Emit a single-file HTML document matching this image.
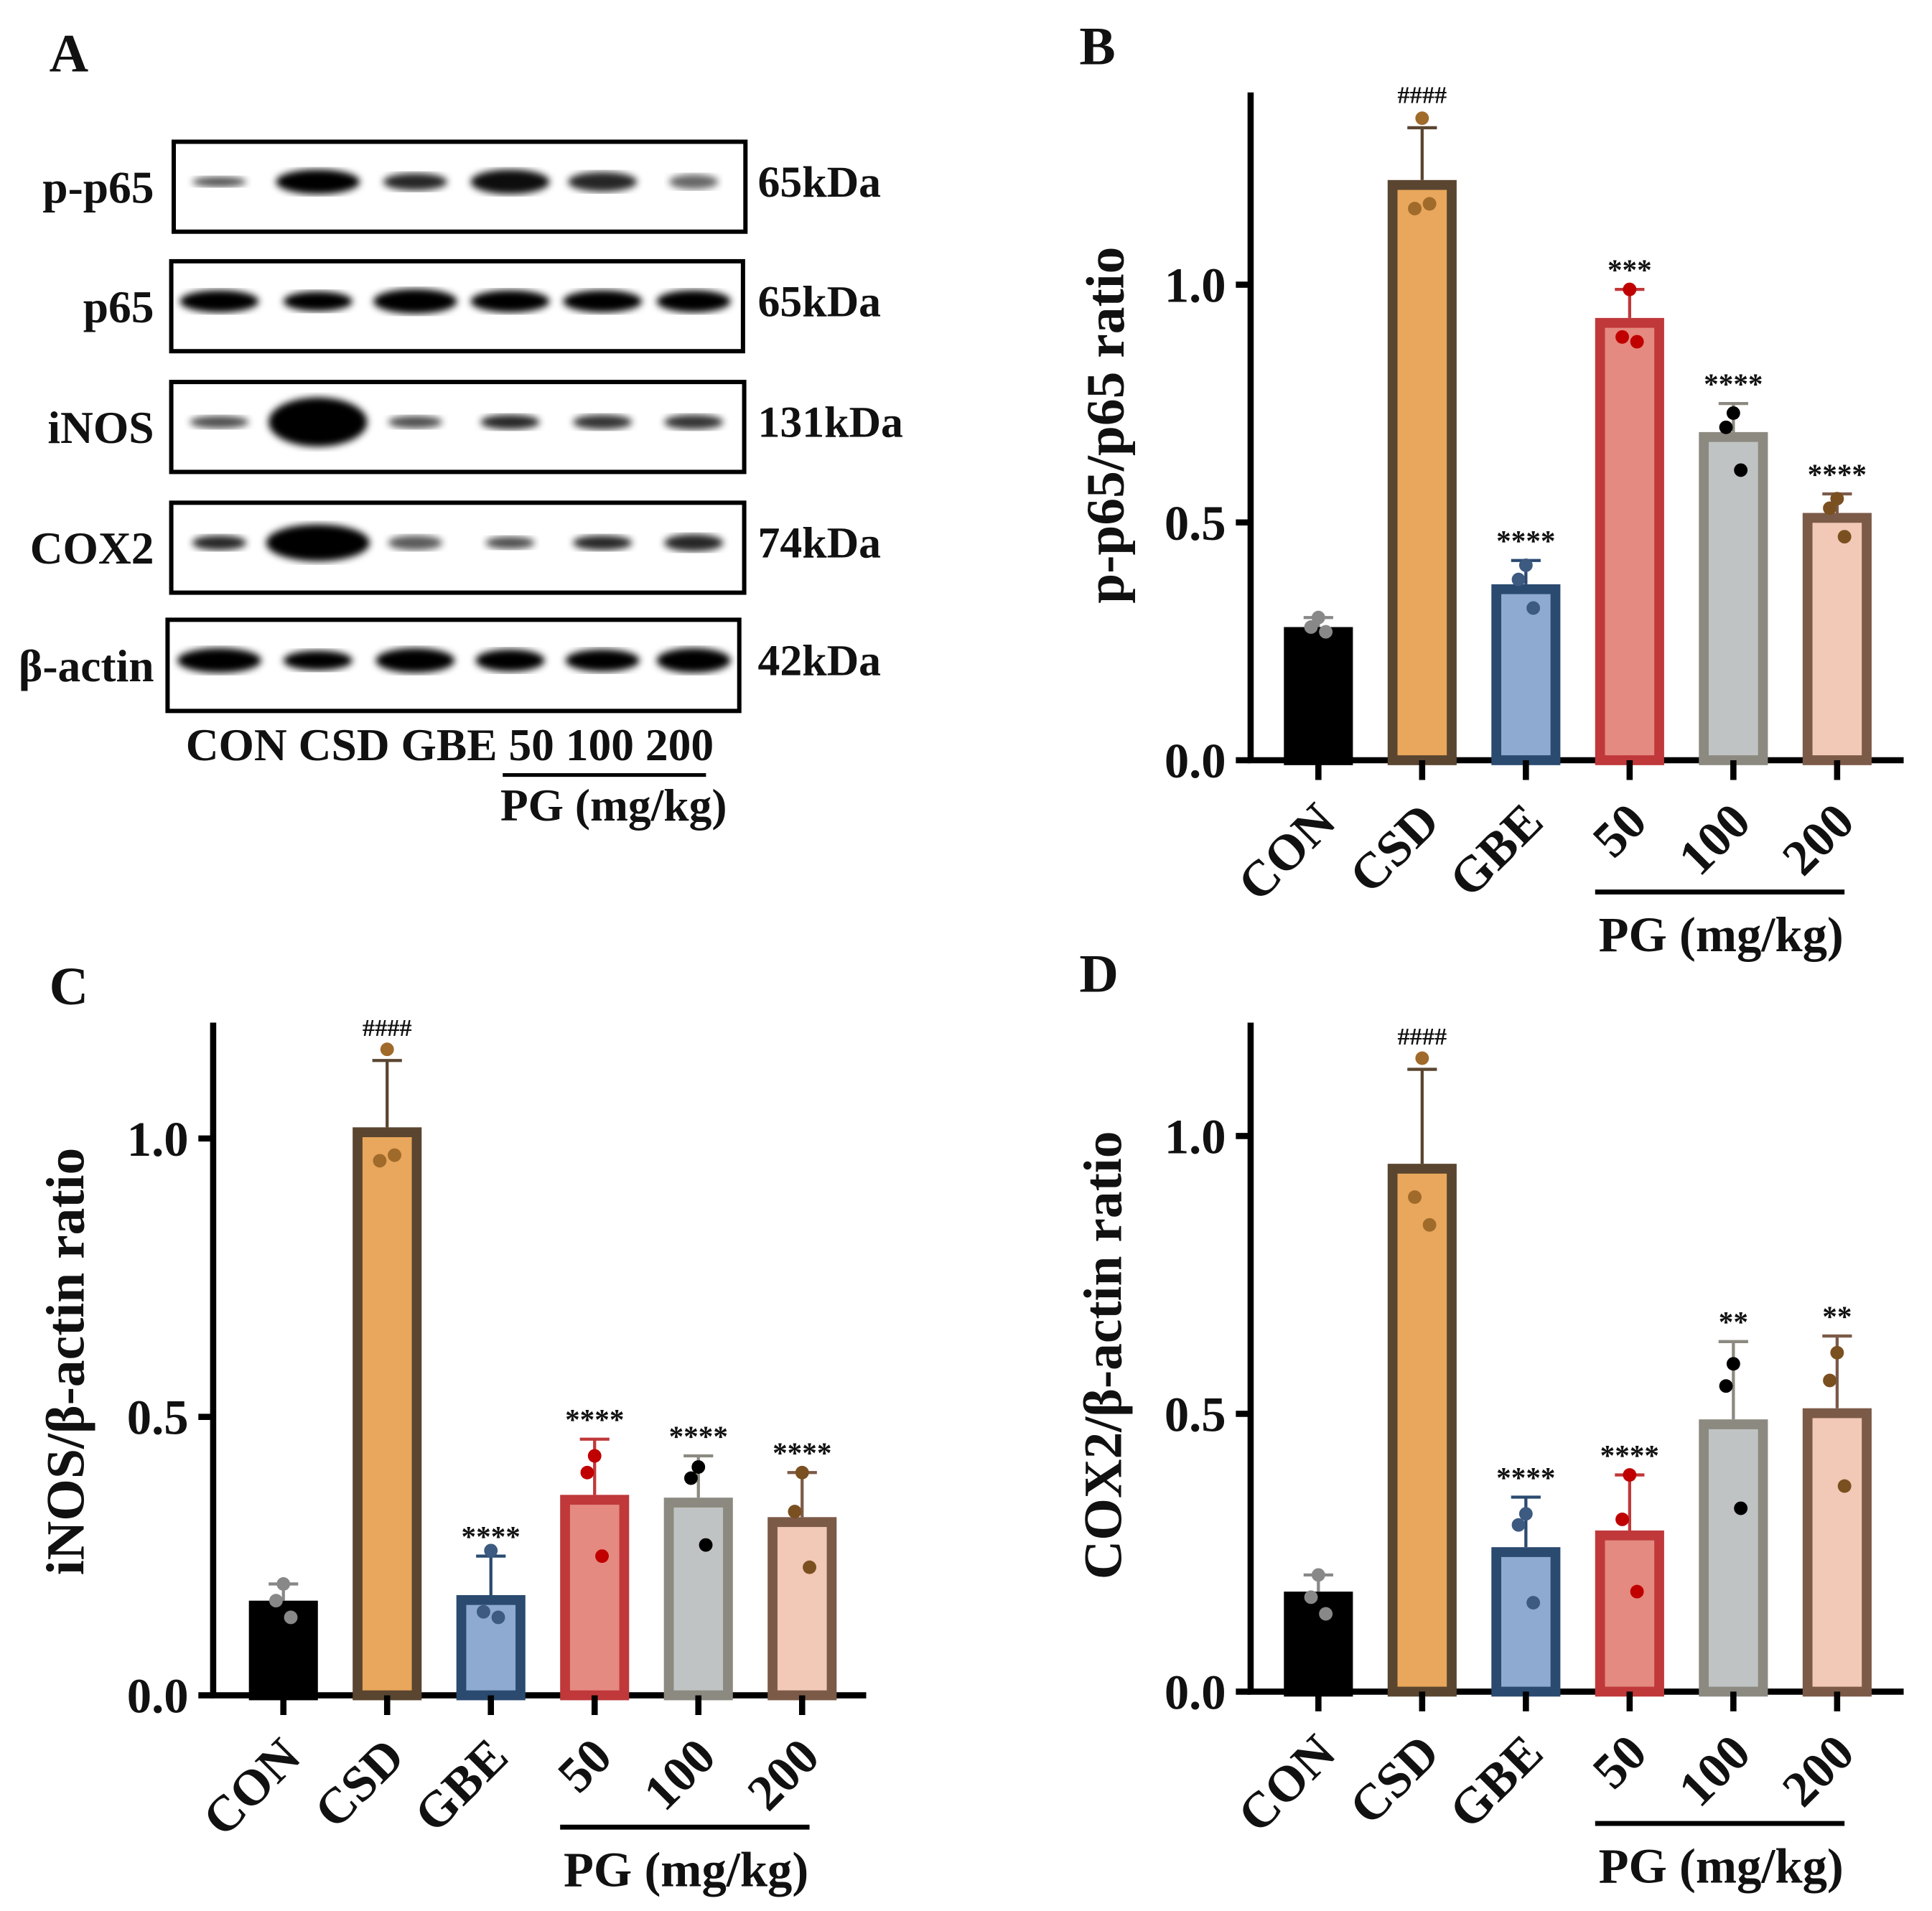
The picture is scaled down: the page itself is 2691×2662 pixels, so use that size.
<!DOCTYPE html>
<html><head><meta charset="utf-8"><style>
html,body{margin:0;padding:0;background:#fff}
svg{display:block}
text{font-family:"Liberation Serif",serif;font-weight:bold;fill:#111}
</style></head><body>
<svg id="fig" width="2691" height="2662" viewBox="0 0 1568 1551" xmlns="http://www.w3.org/2000/svg">
<g id="blot"></g>
<g id="charts"></g>
</svg>
<script>
// ---- data ----
const categories = ["CON","CSD","GBE","50","100","200"];
const bMeans = [0.28,1.22,0.37,0.93,0.69,0.52];
const bErr = [0.30,1.33,0.42,0.99,0.75,0.56];
const bPoints = [[0.30,0.28,0.27],[1.35,1.16,1.17],[0.41,0.38,0.32],[0.99,0.89,0.88],[0.73,0.70,0.61],[0.55,0.53,0.47]];
const bSig = ["","####","****","***","****","****"];
const cMeans = [0.17,1.02,0.18,0.36,0.355,0.32];
const cErr = [0.20,1.14,0.25,0.46,0.43,0.40];
const cPoints = [[0.20,0.17,0.14],[1.16,0.96,0.97],[0.26,0.15,0.14],[0.43,0.40,0.25],[0.41,0.39,0.27],[0.40,0.33,0.23]];
const cSig = ["","####","****","****","****","****"];
const dMeans = [0.18,0.95,0.26,0.29,0.49,0.51];
const dErr = [0.21,1.12,0.35,0.39,0.63,0.64];
const dPoints = [[0.21,0.17,0.14],[1.14,0.89,0.84],[0.32,0.30,0.16],[0.39,0.31,0.18],[0.59,0.55,0.33],[0.61,0.56,0.37]];
const dSig = ["","####","****","****","**","**"];
const yTicks = [0.0,0.5,1.0];
const yTickLabels = ["0.0","0.5","1.0"];

const fills = ["#000","#e8a75c","#8eaad0","#e48a80","#c0c3c3","#f2c8b6"];
const strokes = ["#000","#5a4530","#2b4a70","#c0383a","#8c8a80","#7c5a48"];
const dotCols = ["#888","#a06a2a","#3d5a80","#c00000","#000","#7a5020"];

const NS="http://www.w3.org/2000/svg";
function mk(tag,attrs,parent){const e=document.createElementNS(NS,tag);for(const k in attrs)e.setAttribute(k,attrs[k]);parent.appendChild(e);return e;}

function chart(name,cfg,means,errs,pts,sig,title){
  const g=mk("g",{},document.getElementById("charts"));
  
  
  const y=v=>cfg.y0-v*cfg.k;
  const x=i=>cfg.x0+i*84.2;
  const ax=mk("path",{d:`M${cfg.ax},${cfg.top} V${cfg.y0} H${cfg.ax+530}`,stroke:"#000","stroke-width":5,fill:"none"},g);
  
  
  yTicks.forEach((t,i)=>{
    mk("line",{x1:cfg.ax-12,x2:cfg.ax,y1:y(t),y2:y(t),stroke:"#000","stroke-width":5},g);
    const tl=mk("text",{x:cfg.ax-20,y:y(t)+14,"text-anchor":"end","font-size":40},g);
    tl.textContent=yTickLabels[i];
    
    
  });
  const yt=mk("text",{transform:`translate(${cfg.tx},${cfg.ty}) rotate(-90)`,"text-anchor":"middle","font-size":44},g);
  yt.textContent=title;
  
  
  categories.forEach((c,i)=>{
    const cx=x(i);
    const w=56;
    const bar=mk("rect",{x:cx-w/2+4,y:y(means[i])+4,width:w-8,height:Math.max(0,means[i]*cfg.k-4),fill:fills[i],stroke:strokes[i],"stroke-width":8},g);
    
    
    const ec=strokes[i]==="#000"?"#888":strokes[i];
    mk("line",{x1:cx,x2:cx,y1:y(means[i]),y2:y(errs[i]),stroke:ec,"stroke-width":2.5},g);
    const cap=mk("line",{x1:cx-12,x2:cx+12,y1:y(errs[i]),y2:y(errs[i]),stroke:ec,"stroke-width":2.5},g);
    
    
    pts[i].forEach((p,j)=>{
      const d=mk("circle",{cx:cx+(j===1?-4:j===2?4:0)*1.5,cy:y(p),r:5.5,fill:dotCols[i]},g);
      
      
    });
    mk("line",{x1:cx,x2:cx,y1:cfg.y0,y2:cfg.y0+16,stroke:"#000","stroke-width":5},g);
    if(sig[i]){
      const isH=sig[i][0]==="#";
      const s=mk("text",{x:cx,y:y(errs[i])-(isH?20:8),"text-anchor":"middle","font-size":isH?20:24,"font-weight":"normal"},g);
      s.textContent=sig[i];
      
      
    }
    const lab=mk("text",{transform:`translate(${cx+16},${cfg.y0+52}) rotate(-45)`,"text-anchor":"end","font-size":41},g);
    lab.textContent=c;
    
    
  });
  mk("line",{x1:x(3)-28,x2:x(5)+6,y1:cfg.y0+107,y2:cfg.y0+107,stroke:"#000","stroke-width":4},g);
  const pg=mk("text",{x:x(4)-10,y:cfg.y0+155,"text-anchor":"middle","font-size":40},g);
  pg.textContent="PG (mg/kg)";
  
  
}
chart("chart-b",{ax:1015,top:75,y0:617,k:386,x0:1070,tx:912,ty:345},bMeans,bErr,bPoints,bSig,"p-p65/p65 ratio");
chart("chart-c",{ax:173,top:830,y0:1376,k:452,x0:230,tx:68,ty:1105},cMeans,cErr,cPoints,cSig,"iNOS/β-actin ratio");
chart("chart-d",{ax:1015,top:830,y0:1373,k:451,x0:1070,tx:910,ty:1100},dMeans,dErr,dPoints,dSig,"COX2/β-actin ratio");

// panel letters
[["A",40,58],["B",876,52],["C",40,815],["D",876,805]].forEach(l=>{
  const t=mk("text",{x:l[1],y:l[2],"font-size":44},document.getElementById("fig"));
  t.textContent=l[0];
  
  
});

// blot
const blotRows=["p-p65","p65","iNOS","COX2","β-actin"];
const blotKda=["65kDa","65kDa","131kDa","74kDa","42kDa"];
const blotBoxes=[[141,115,605,188],[139,212,603,285],[139,310,604,383],[139,408,604,481],[136,503,600,577]];
const bandX=[178,258,337,414,489,563];
const bandW=[[22,34,26,32,28,20],[32,28,34,32,32,30],[24,40,22,24,24,24],[22,42,22,20,24,24],[34,28,32,28,30,30]];
const bandH=[[4,10,7,10,8,6],[9,8,10,9,9,9],[5,20,5,6,6,6],[6,15,6,5,6,7],[10,8,10,9,9,10]];
const bandO=[[0.7,1,0.85,0.95,0.85,0.6],[1,1,1,1,1,1],[0.7,1,0.7,0.85,0.8,0.8],[0.85,1,0.65,0.7,0.85,0.85],[1,1,1,1,1,1]];
const blot=document.getElementById("blot");
const defs=mk("defs",{},blot);
const f=mk("filter",{id:"blur"},defs);mk("feGaussianBlur",{stdDeviation:3},f);
blotRows.forEach((r,i)=>{
  const b=blotBoxes[i];
  const box=mk("rect",{x:b[0],y:b[1],width:b[2]-b[0],height:b[3]-b[1],fill:"#fff",stroke:"#000","stroke-width":3.5},blot);
  
  
  const cy=(b[1]+b[3])/2;
  bandX.forEach((bx,j)=>{
    mk("ellipse",{cx:bx,cy:cy-4,rx:bandW[i][j],ry:bandH[i][j],fill:"#000","fill-opacity":bandO[i][j],filter:"url(#blur)"},blot);
  });
  const lt=mk("text",{x:125,y:cy+13,"text-anchor":"end","font-size":37},blot);
  lt.textContent=r;
  
  
  const kt=mk("text",{x:615,y:cy+8,"font-size":36},blot);
  kt.textContent=blotKda[i];
  
  
});
const lanes=mk("text",{x:365,y:617,"text-anchor":"middle","font-size":37},blot);
lanes.textContent="CON CSD GBE 50 100 200";


mk("line",{x1:408,x2:573,y1:629,y2:629,stroke:"#000","stroke-width":3},blot);
const pgA=mk("text",{x:498,y:666,"text-anchor":"middle","font-size":37},blot);
pgA.textContent="PG (mg/kg)";


</script>
</body></html>
